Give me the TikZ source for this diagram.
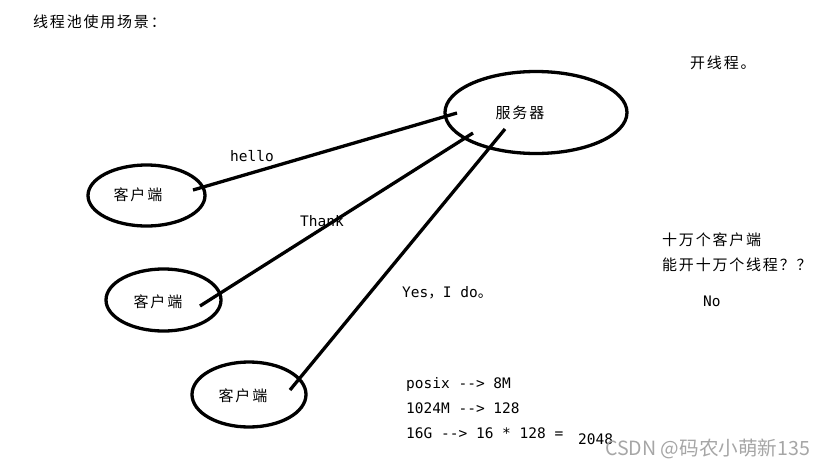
\documentclass[tikz,border=0pt]{standalone}
\usepackage{fontspec}
\newfontfamily\cjk[LetterSpace=12]{Noto Sans CJK SC}
\newfontfamily\cjkw{Noto Sans CJK SC}
\newfontfamily\mono{DejaVu Sans Mono}
\usetikzlibrary{shapes.geometric}
\tikzset{
  blob/.style={draw, ellipse, line width=3.3pt, inner sep=0pt},
  wire/.style={line width=3.3pt},
  zh/.style={font=\cjk\fontsize{15}{18}\selectfont, inner sep=0pt},
  en/.style={font=\mono\fontsize{14.5}{18}\selectfont, inner sep=0pt},
  wmark/.style={font=\cjkw\fontsize{19.6}{22}\selectfont, text=black!35, inner sep=0pt}
}
\begin{document}
\begin{tikzpicture}[x=1pt,y=-1pt]
\useasboundingbox (0,0) rectangle (828,469);
% ellipses
\node[blob, minimum width=182pt, minimum height=82pt] (srv) at (536,112.5) {};
\node[blob, minimum width=117pt, minimum height=61pt] (c1) at (146.5,195.5) {};
\node[blob, minimum width=115pt, minimum height=62pt] (c2) at (163.5,300) {};
\node[blob, minimum width=114pt, minimum height=65pt] (c3) at (249,394.5) {};
% connector ends
\coordinate (a1) at (193,190);
\coordinate (b1) at (457,113);
\coordinate (a2) at (200,306);
\coordinate (b2) at (473,133);
\coordinate (a3) at (290,390);
\coordinate (b3) at (505,129);
\draw[wire] (a1) -- (b1);
\draw[wire] (a2) -- (b2);
\draw[wire] (a3) -- (b3);
% labels
\node[zh, anchor=west] (title) at (33,22) {线程池使用场景：};
\node[zh] (srvt) at (520,113) {服务器};
\node[zh] (c1t) at (138,195) {客户端};
\node[zh] (c2t) at (158,302) {客户端};
\node[zh] (c3t) at (243,396) {客户端};
\node[zh, anchor=west] (open) at (690,63) {开线程。};
\node[en, anchor=west] (hello) at (230,156) {hello};
\node[en, anchor=west] (thank) at (300,221) {Thank};
\node[en, anchor=west] (yes) at (402,293) {Yes{\cjkw ，}I do{\cjkw 。}};
\node[zh, anchor=west] (q1) at (662,240) {十万个客户端};
\node[zh, anchor=west] (q2) at (662,265) {能开十万个线程？？};
\node[en, anchor=west] (no) at (703,301) {No};
\node[en, anchor=west] (p1) at (406,384) {posix --> 8M};
\node[en, anchor=west] (p2) at (406,408) {1024M --> 128};
\node[en, anchor=west] (p3) at (406,433) {16G --> 16 * 128 =};
\node[en, anchor=west] (p4) at (578,439) {2048};
\node[wmark, anchor=west] (wm) at (605,449) {CSDN @码农小萌新135};
\end{tikzpicture}
\end{document}
